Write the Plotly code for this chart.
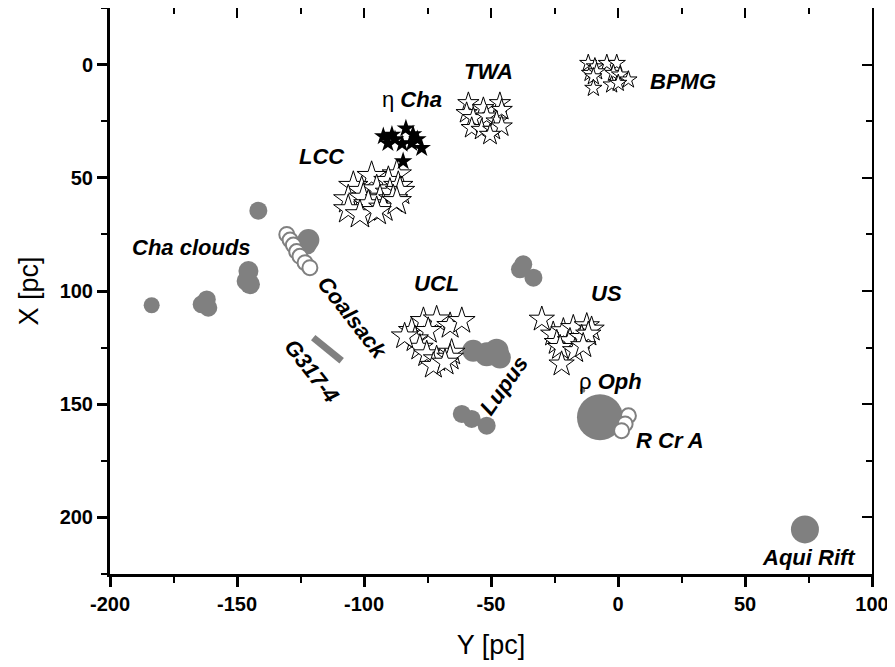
import plotly.graph_objects as go

GRAY = "#808080"

# eta Cha (filled stars)
eta_y = [-92.4, -90.6, -87.8, -83.5, -80.7, -81.2, -77.3, -84.6, -89.0, -85.0, -79.0]
eta_x = [31.7, 34.7, 33.0, 28.2, 30.8, 34.7, 36.9, 42.7, 31.0, 35.0, 33.0]

# LCC
lcc_y = [-87.1, -97.0, -90.4, -86.5, -104.2, -100.9, -95.0, -89.8, -85.8, -106.2,
         -100.3, -93.7, -88.5, -98.3, -92.4, -87.1, -106.2, -101.6, -95.0]
lcc_x = [48.6, 49.3, 51.5, 53.7, 53.7, 55.9, 55.2, 56.7, 55.9, 59.6,
         58.9, 59.6, 59.6, 61.8, 63.3, 60.4, 64.0, 66.2, 64.8]

# TWA
twa_y = [-58.9, -53.0, -46.5, -59.6, -45.8, -57.0, -51.7, -47.8, -57.6, -53.7, -49.1, -45.8, -50.4]
twa_x = [17.0, 19.2, 17.0, 21.4, 20.0, 23.6, 22.9, 25.1, 28.0, 28.8, 28.8, 27.3, 31.0]

# BPMG
bpmg_y = [-11.7, -9.1, -4.4, -0.5, -11.0, -8.4, -1.8, 0.8, 4.1, -9.7, -9.7, -2.5, 0.1]
bpmg_x = [-0.6, 0.9, -0.6, -0.6, 3.8, 3.1, 3.8, 4.5, 6.7, 5.3, 10.4, 8.9, 8.2]

# UCL
ucl_y = [-81.2, -76.6, -71.4, -66.1, -61.5, -74.7, -79.9, -78.0, -75.3, -71.4, -65.5, -66.1, -72.7, -68.1, -84.0]
ucl_x = [117.6, 113.2, 112.5, 115.4, 113.2, 117.6, 121.3, 125.0, 127.9, 130.1, 127.2, 129.4, 133.0, 131.6, 120.0]

# US
us_y = [-30.0, -25.5, -21.5, -17.6, -12.3, -10.4, -24.1, -18.9, -14.3, -11.7, -22.8, -16.9, -13.7, -22.2]
us_x = [112.5, 119.1, 117.6, 116.2, 115.4, 116.9, 122.8, 122.0, 120.6, 119.1, 125.0, 126.4, 124.2, 132.3]

# clouds (filled grey circles)
cloud_y = [-183.6, -161.9, -161.3, -163.9, -145.5, -146.2, -144.9, -141.6,
           -121.9, -122.5, -38.6, -33.3, -37.3,
           -57.0, -51.7, -47.8, -46.5, -61.5, -57.6, -51.7,
           -7.1, -13.9, 73.6]
cloud_x = [106.3, 103.7, 107.4, 105.9, 91.2, 95.6, 97.0, 64.5,
           77.5, 79.5, 90.4, 94.1, 88.2,
           126.4, 127.9, 126.4, 129.4, 154.3, 156.5, 159.5,
           155.8, 143.8, 205.3]
cloud_s = [16, 18, 18, 18, 20, 20, 20, 18,
           22, 20, 18, 18, 18,
           22, 24, 24, 22, 18, 18, 18,
           46, 5, 28]

# Coalsack & R CrA (open grey circles)
open_y = [-130.4, -129.1, -127.8, -126.5, -125.2, -123.2, -121.3, 4.1, 2.8, 1.4]
open_x = [75.0, 77.5, 79.7, 82.6, 84.7, 87.5, 89.7, 155.1, 158.7, 161.7]

# G317-4 filament
g317_y = [-120.0, -108.8]
g317_x = [120.6, 130.8]

labels = ["η <b><i>Cha</i></b>", "<b><i>TWA</i></b>", "<b><i>BPMG</i></b>", "<b><i>LCC</i></b>",
          "<b><i>Cha clouds</i></b>", "<b><i>Coalsack</i></b>", "<b><i>G317-4</i></b>",
          "<b><i>UCL</i></b>", "<b><i>US</i></b>", "<b><i>Lupus</i></b>",
          "ρ <b><i>Oph</i></b>", "<b><i>R Cr A</i></b>", "<b><i>Aqui Rift</i></b>"]
label_y = [-81.0, -51.0, 25.5, -116.5, -168.0, -104.5, -120.8, -71.3, -4.7, -44.9, -2.8, 20.5, 75.0]
label_x = [15.5, 3.0, 7.5, 40.5, 81.0, 111.5, 135.2, 96.5, 101.0, 141.8, 140.0, 166.0, 217.5]
label_ang = [0, 0, 0, 0, 0, 52, 52, 0, 0, -55, 0, 0, 0]

fig = go.Figure()

fig.add_trace(go.Scatter(x=g317_y, y=g317_x, mode="lines",
                         line=dict(color=GRAY, width=7)))
fig.add_trace(go.Scatter(x=cloud_y, y=cloud_x, mode="markers",
                         marker=dict(symbol="circle", size=cloud_s, color=GRAY, opacity=1,
                                     line=dict(width=0))))
fig.add_trace(go.Scatter(x=open_y, y=open_x, mode="markers",
                         marker=dict(symbol="circle", size=15, color="white", opacity=1,
                                     line=dict(color=GRAY, width=2))))

for ys, xs, sz in [(lcc_y, lcc_x, 22), (twa_y, twa_x, 16), (bpmg_y, bpmg_x, 13),
                   (ucl_y, ucl_x, 20), (us_y, us_x, 19)]:
    fig.add_trace(go.Scatter(x=ys, y=xs, mode="markers",
                             marker=dict(symbol="star", size=sz, color="white", opacity=1,
                                         line=dict(color="black", width=1))))

fig.add_trace(go.Scatter(x=eta_y, y=eta_x, mode="markers",
                         marker=dict(symbol="star", size=14, color="black", opacity=1, line=dict(width=0))))

for t, ly, lx, ang in zip(labels, label_y, label_x, label_ang):
    fig.add_annotation(x=ly, y=lx, text=t, showarrow=False, textangle=ang,
                       font=dict(family="Arial", size=22, color="black"))

# dummy trace to show top/right axes
fig.add_trace(go.Scatter(x=[None], y=[None], xaxis="x2", yaxis="y2"))

xt = [-200, -150, -100, -50, 0, 50, 100]
yt = [0, 50, 100, 150, 200]

fig.update_layout(
    width=886, height=652,
    margin=dict(l=102, r=22, t=0, b=86),
    paper_bgcolor="white", plot_bgcolor="white",
    showlegend=False,
    font=dict(family="Arial", color="black"),
    xaxis=dict(range=[-200, 100], tickvals=xt, ticktext=["<b>%d</b>" % v for v in xt],
               ticks="outside", ticklen=10, tickwidth=2.5, tickcolor="black",
               minor=dict(ticks="outside", ticklen=6, tickwidth=2, dtick=25, tick0=-200, tickcolor="black"),
               showline=True, linewidth=3, linecolor="black", showgrid=False, zeroline=False,
               tickfont=dict(size=20), ticklabeloverflow="allow",
               title=dict(text="Y [pc]", font=dict(size=27), standoff=26)),
    yaxis=dict(range=[225, -25], tickvals=yt, ticktext=["<b>%d</b>" % v for v in yt],
               ticks="outside", ticklen=10, tickwidth=2.5, tickcolor="black",
               minor=dict(ticks="outside", ticklen=6, tickwidth=2, dtick=25, tick0=0, tickcolor="black"),
               showline=True, linewidth=3, linecolor="black", showgrid=False, zeroline=False,
               tickfont=dict(size=20),
               title=dict(text="X [pc]", font=dict(size=27), standoff=14)),
    xaxis2=dict(overlaying="x", side="top", range=[-200, 100], tickvals=xt,
                showticklabels=False, ticks="inside", ticklen=10, tickwidth=2, tickcolor="black",
                minor=dict(ticks="inside", ticklen=6, tickwidth=2, dtick=25, tick0=-200, tickcolor="black"),
                showline=True, linewidth=2, linecolor="black", showgrid=False, zeroline=False),
    yaxis2=dict(overlaying="y", side="right", range=[225, -25], tickvals=yt,
                showticklabels=False, ticks="inside", ticklen=10, tickwidth=2, tickcolor="black",
                minor=dict(ticks="inside", ticklen=6, tickwidth=2, dtick=25, tick0=0, tickcolor="black"),
                showline=True, linewidth=2, linecolor="black", showgrid=False, zeroline=False),
)

fig.write_html("out.html")
